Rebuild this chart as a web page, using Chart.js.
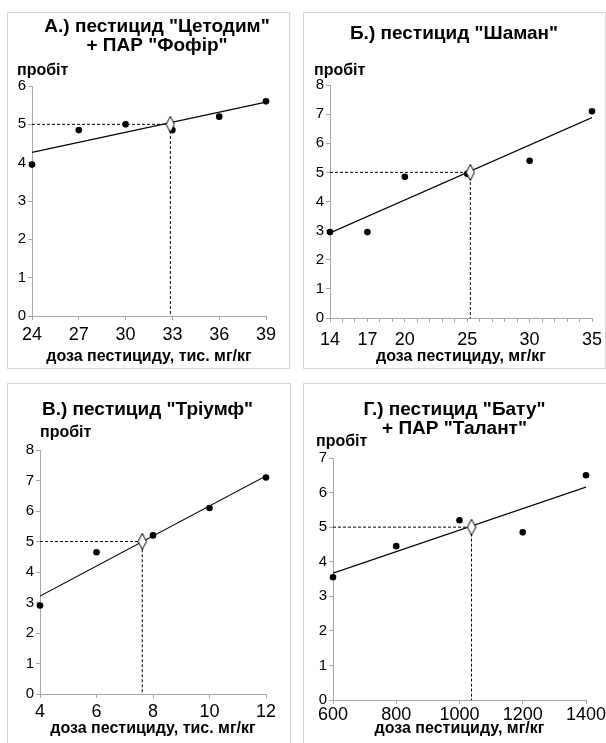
<!DOCTYPE html>
<html>
<head>
<meta charset="utf-8">
<script src="https://cdn.jsdelivr.net/npm/chart.js@4.4.1/dist/chart.umd.min.js"></script>
<style>
  html, body { margin: 0; padding: 0; background: #fff; overflow: hidden; }
  body { width: 606px; height: 743px; position: relative; }
  .frame { position: absolute; border: 1px solid #d6d6d6; box-sizing: border-box; }
  canvas { position: absolute; }
</style>
</head>
<body>
<div class="frame" style="left:7px;top:12px;width:283px;height:357px"></div>
<div class="frame" style="left:303px;top:12px;width:303px;height:357px"></div>
<div class="frame" style="left:7px;top:383px;width:284px;height:380px"></div>
<div class="frame" style="left:303px;top:383px;width:320px;height:380px"></div>
<canvas id="chartA"></canvas>
<canvas id="chartB"></canvas>
<canvas id="chartV"></canvas>
<canvas id="chartG"></canvas>
<script>
// А.) Цетодим + Фофір
const titleA = ['А.) пестицид "Цетодим"', '+ ПАР "Фофір"'];
const xTitleA = 'доза пестициду, тис. мг/кг';
const dosesA = [24, 27, 30, 33, 36, 39];
const probitA = [3.95, 4.85, 5.0, 4.85, 5.2, 5.6];
const trendA = [4.27, 5.58];
const ld50A = 32.87;
const xLabelsA = [24, 27, 30, 33, 36, 39];
const yMaxA = 6;

// Б.) Шаман
const titleB = ['Б.) пестицид "Шаман"'];
const xTitleB = 'доза пестициду, мг/кг';
const dosesB = [14, 17, 20, 25, 30, 35];
const probitB = [2.95, 2.95, 4.85, 4.95, 5.4, 7.1];
const trendB = [2.92, 6.88];
const ld50B = 25.25;
const xLabelsB = [14, 17, 20, 25, 30, 35];
const yMaxB = 8;

// В.) Тріумф
const titleV = ['В.) пестицид "Тріумф"'];
const xTitleV = 'доза пестициду, тис. мг/кг';
const dosesV = [4, 6, 8, 10, 12];
const probitV = [2.9, 4.65, 5.2, 6.1, 7.1];
const trendV = [3.21, 7.15];
const ld50V = 7.62;
const xLabelsV = [4, 6, 8, 10, 12];
const yMaxV = 8;

// Г.) Бату + Талант
const titleG = ['Г.) пестицид "Бату"', '+ ПАР "Талант"'];
const xTitleG = 'доза пестициду, мг/кг';
const dosesG = [600, 800, 1000, 1200, 1400];
const probitG = [3.55, 4.45, 5.2, 4.85, 6.5];
const trendG = [3.67, 6.16];
const ld50G = 1038;
const xLabelsG = [600, 800, 1000, 1200, 1400];
const yMaxG = 7;

const FONT = "'Liberation Sans', Arial, sans-serif";
const AXIS = '#a6a6a6';
Chart.defaults.font.family = FONT;
Chart.defaults.color = '#000';

// white diamond marking the LD50 point
function makeDiamond() {
  const c = document.createElement('canvas');
  c.width = 10; c.height = 17;
  const g = c.getContext('2d');
  g.beginPath();
  g.moveTo(5, 0.5); g.lineTo(9.2, 8.5); g.lineTo(5, 16.5); g.lineTo(0.8, 8.5);
  g.closePath();
  g.fillStyle = '#fff'; g.fill();
  g.strokeStyle = '#000'; g.lineWidth = 1; g.stroke();
  return c;
}
const diamond = makeDiamond();

function drawPanel(id, lay, title, xTitle, doses, probit, trend, ld50, xLabels, minorStep, yMax) {
  const el = document.getElementById(id);
  el.width = lay.w; el.height = lay.h;
  el.style.left = lay.left + 'px'; el.style.top = lay.top + 'px';
  const xMin = xLabels[0], xMax = xLabels[xLabels.length - 1];

  const datasets = [
    { data: [{ x: ld50, y: 5 }], pointStyle: diamond, pointRadius: 5, clip: false },
    { data: doses.map((d, i) => ({ x: d, y: probit[i] })), pointRadius: 3.3,
      backgroundColor: '#000', borderWidth: 0, clip: false },
    { data: [{ x: xMin, y: 5 }, { x: ld50, y: 5 }, { x: ld50, y: 0 }], showLine: true,
      pointRadius: 0, borderColor: '#000', borderWidth: 1, borderDash: [3, 2] },
    { data: [{ x: xMin, y: trend[0] }, { x: xMax, y: trend[1] }], showLine: true,
      pointRadius: 0, borderColor: '#000', borderWidth: 1.2 },
  ];

  new Chart(el, {
    type: 'scatter',
    data: { datasets },
    options: {
      responsive: false,
      animation: false,
      events: [],
      layout: { padding: { left: lay.padL, right: lay.padR, top: 0, bottom: 0 } },
      plugins: {
        legend: { display: false },
        tooltip: { enabled: false },
        title: {
          display: true, text: title,
          font: { size: 19, weight: 'bold', lineHeight: 1 },
          padding: { top: lay.tPad[0], bottom: lay.tPad[1] },
        },
        subtitle: {
          display: true, text: 'пробіт', align: 'start', fullSize: lay.subFull,
          font: { size: 16, weight: 'bold', lineHeight: 1 },
          padding: { top: lay.sPad[0], bottom: lay.sPad[1] },
        },
      },
      scales: {
        x: {
          type: 'linear', min: xMin, max: xMax,
          grid: { drawOnChartArea: false, tickLength: 4, color: AXIS },
          border: { color: AXIS },
          afterBuildTicks: s => {
            const t = [];
            for (let v = xMin; v <= xMax + 1e-9; v += minorStep) t.push({ value: v });
            s.ticks = t;
          },
          ticks: {
            autoSkip: false, maxRotation: 0, padding: lay.tickPad,
            font: { size: 18 },
            callback: v => xLabels.includes(v) ? String(v) : '',
          },
          title: {
            display: true, text: xTitle,
            font: { size: 16, weight: 'bold', lineHeight: 1 },
            padding: { top: 0, bottom: lay.xtPad },
          },
          afterFit: s => { s.height = lay.xH; s.paddingLeft = 0; s.paddingRight = 0; },
        },
        y: {
          type: 'linear', min: 0, max: yMax,
          grid: { drawOnChartArea: false, tickLength: 4, color: AXIS },
          border: { color: AXIS },
          ticks: { stepSize: 1, padding: 2, font: { size: 15 } },
          afterFit: s => { s.width = lay.yW; s.paddingTop = 0; s.paddingBottom = 0; },
        },
        gap: {
          type: 'linear', position: 'right', display: lay.gap > 0,
          grid: { display: false }, border: { display: false }, ticks: { display: false },
          afterFit: s => { s.width = lay.gap; },
        },
      },
    },
  });
}

drawPanel('chartA',
  { left: 7, top: 12, w: 290, h: 356, padL: 10, padR: 0, yW: 15, gap: 31, xH: 52,
    tPad: [5, 8], sPad: [0, 7], subFull: true, tickPad: 4, xtPad: 3 },
  titleA, xTitleA, dosesA, probitA, trendA, ld50A, xLabelsA, 3, yMaxA);

drawPanel('chartB',
  { left: 303, top: 12, w: 303, h: 356, padL: 11, padR: 12, yW: 16, gap: 2, xH: 50,
    tPad: [12.5, 19.5], sPad: [0, 6], subFull: true, tickPad: 7, xtPad: 3 },
  titleB, xTitleB, dosesB, probitB, trendB, ld50B, xLabelsB, 1, yMaxB);

drawPanel('chartV',
  { left: 7, top: 383, w: 281, h: 360, padL: 0, padR: 0, yW: 33, gap: 22, xH: 49,
    tPad: [17.5, 5.5], sPad: [0, 9], subFull: false, tickPad: 3, xtPad: 6 },
  titleV, xTitleV, dosesV, probitV, trendV, ld50V, xLabelsV, 2, yMaxV);

drawPanel('chartG',
  { left: 303, top: 383, w: 303, h: 360, padL: 13, padR: 13, yW: 17, gap: 7, xH: 43,
    tPad: [17, -4], sPad: [0, 8], subFull: true, tickPad: 0, xtPad: 6 },
  titleG, xTitleG, dosesG, probitG, trendG, ld50G, xLabelsG, 200, yMaxG);
</script>
</body>
</html>
